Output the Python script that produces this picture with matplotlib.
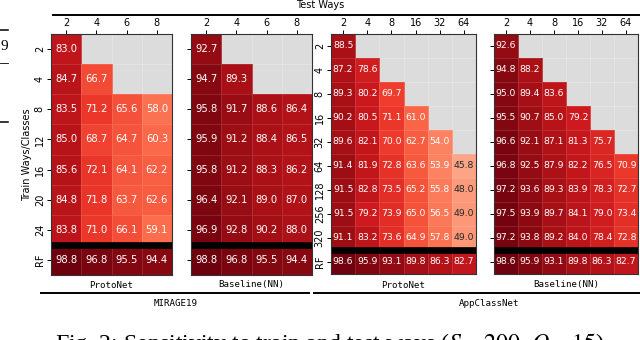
# -*- coding: utf-8 -*-
import numpy as np
import matplotlib
matplotlib.use("Agg")
import matplotlib.pyplot as plt
from matplotlib.lines import Line2D

nan = np.nan

# MIRAGE19, train ways 2..24 + RF, test ways 2..8
mirage_rows = ["2", "4", "8", "12", "16", "20", "24", "RF"]
mirage_cols = ["2", "4", "6", "8"]
mirage_proto = [
    [83.0, nan, nan, nan],
    [84.7, 66.7, nan, nan],
    [83.5, 71.2, 65.6, 58.0],
    [85.0, 68.7, 64.7, 60.3],
    [85.6, 72.1, 64.1, 62.2],
    [84.8, 71.8, 63.7, 62.6],
    [83.8, 71.0, 66.1, 59.1],
    [98.8, 96.8, 95.5, 94.4],
]
mirage_base = [
    [92.7, nan, nan, nan],
    [94.7, 89.3, nan, nan],
    [95.8, 91.7, 88.6, 86.4],
    [95.9, 91.2, 88.4, 86.5],
    [95.8, 91.2, 88.3, 86.2],
    [96.4, 92.1, 89.0, 87.0],
    [96.9, 92.8, 90.2, 88.0],
    [98.8, 96.8, 95.5, 94.4],
]

# AppClassNet, train classes 2..320 + RF, test ways 2..64
acn_rows = ["2", "4", "8", "16", "32", "64", "128", "256", "320", "RF"]
acn_cols = ["2", "4", "8", "16", "32", "64"]
acn_proto = [
    [88.5, nan, nan, nan, nan, nan],
    [87.2, 78.6, nan, nan, nan, nan],
    [89.3, 80.2, 69.7, nan, nan, nan],
    [90.2, 80.5, 71.1, 61.0, nan, nan],
    [89.6, 82.1, 70.0, 62.7, 54.0, nan],
    [91.4, 81.9, 72.8, 63.6, 53.9, 45.8],
    [91.5, 82.8, 73.5, 65.2, 55.8, 48.0],
    [91.5, 79.2, 73.9, 65.0, 56.5, 49.0],
    [91.1, 83.2, 73.6, 64.9, 57.8, 49.0],
    [98.6, 95.9, 93.1, 89.8, 86.3, 82.7],
]
acn_base = [
    [92.6, nan, nan, nan, nan, nan],
    [94.8, 88.2, nan, nan, nan, nan],
    [95.0, 89.4, 83.6, nan, nan, nan],
    [95.5, 90.7, 85.0, 79.2, nan, nan],
    [96.6, 92.1, 87.1, 81.3, 75.7, nan],
    [96.8, 92.5, 87.9, 82.2, 76.5, 70.9],
    [97.2, 93.6, 89.3, 83.9, 78.3, 72.7],
    [97.5, 93.9, 89.7, 84.1, 79.0, 73.4],
    [97.2, 93.8, 89.2, 84.0, 78.4, 72.8],
    [98.6, 95.9, 93.1, 89.8, 86.3, 82.7],
]

W, H = 640, 340
CMAP = plt.get_cmap("Reds")
NORM = plt.Normalize(vmin=20, vmax=100)


def px_rect(x0, y0, x1, y1):
    # pixel box (top-left origin) -> figure fraction rect
    return [x0 / W, 1 - y1 / H, (x1 - x0) / W, (y1 - y0) / H]


def text_color(v):
    rgb = np.array(CMAP(NORM(v))[:3])
    rgb = np.where(rgb <= 0.03928, rgb / 12.92, ((rgb + 0.055) / 1.055) ** 2.4)
    lum = 0.2126 * rgb[0] + 0.7152 * rgb[1] + 0.0722 * rgb[2]
    return "#262626" if lum > 0.408 else "white"


def heatmap(ax, data, rows, cols, fs, show_y):
    data = np.ma.masked_invalid(np.array(data, dtype=float))
    ax.set_facecolor("#dcdcdc")
    ax.pcolormesh(np.arange(len(cols) + 1), np.arange(len(rows) + 1), data,
                  cmap=CMAP, norm=NORM, edgecolors=(1, 1, 1, 0.12), linewidth=0.4)
    ax.set_xlim(0, len(cols))
    ax.set_ylim(len(rows), 0)
    for i in range(len(rows)):
        for j in range(len(cols)):
            v = data[i, j]
            if np.ma.is_masked(v):
                continue
            ax.text(j + 0.5, i + 0.5, f"{v:.1f}", ha="center", va="center",
                    fontsize=fs, color=text_color(v))
    # separator before the RF row
    ax.axhline(len(rows) - 1, color="black", lw=4.8)

    ax.xaxis.tick_top()
    ax.set_xticks(np.arange(len(cols)) + 0.5)
    ax.set_xticklabels(cols)
    ax.set_yticks(np.arange(len(rows)) + 0.5)
    if show_y:
        ax.set_yticklabels(rows, rotation=90, va="center")
    else:
        ax.set_yticklabels([])
        ax.tick_params(axis="y", length=0)
    ax.tick_params(labelsize=7, length=3, width=0.7, pad=1.5)
    for s in ax.spines.values():
        s.set_linewidth(0.8)
        s.set_color("#333333")


def main():
    fig = plt.figure(figsize=(W / 100, H / 100), dpi=100)

    ax1 = fig.add_axes(px_rect(51, 34, 172, 275))
    ax2 = fig.add_axes(px_rect(191, 34, 312, 275))
    ax3 = fig.add_axes(px_rect(331, 34, 476, 274))
    ax4 = fig.add_axes(px_rect(494, 34, 638, 274))

    heatmap(ax1, mirage_proto, mirage_rows, mirage_cols, 7.2, True)
    heatmap(ax2, mirage_base, mirage_rows, mirage_cols, 7.2, False)
    heatmap(ax3, acn_proto, acn_rows, acn_cols, 6.7, True)
    heatmap(ax4, acn_base, acn_rows, acn_cols, 6.7, False)

    ax1.set_ylabel("Train Ways/Classes", fontsize=7, labelpad=2)

    mono = "DejaVu Sans Mono"
    # model names under each panel
    for ax, name in [(ax1, "ProtoNet"), (ax2, "Baseline(NN)"),
                     (ax3, "ProtoNet"), (ax4, "Baseline(NN)")]:
        box = ax.get_position()
        fig.text(box.x0 + box.width / 2, 1 - 285 / H, name, family=mono,
                 fontsize=6.6, ha="center", va="center")

    # dataset names + grouping lines
    fig.add_artist(Line2D([41 / W, 309 / W], [1 - 292.5 / H] * 2, color="black", lw=1.4))
    fig.add_artist(Line2D([314 / W, 1.0], [1 - 292.5 / H] * 2, color="black", lw=1.4))
    fig.text(176 / W, 1 - 304 / H, "MIRAGE19", family=mono, fontsize=6.6,
             ha="center", va="center")
    fig.text(489 / W, 1 - 304 / H, "AppClassNet", family=mono, fontsize=6.6,
             ha="center", va="center")

    # shared x label on top
    fig.add_artist(Line2D([53 / W, 1.0], [1 - 14.7 / H] * 2, color="black", lw=1.4))
    fig.text(320 / W, 1 - 5 / H, "Test Ways", fontsize=7, ha="center", va="center")

    # bits of the page around the figure (caption is cut by the crop)
    plt.rcParams["mathtext.fontset"] = "stix"
    fig.text(55 / W, 1 - 331 / H,
             "Fig. 2: Sensitivity to train and test ways ($S = 200$, $Q = 15$).",
             family="Liberation Serif", fontsize=17.2, ha="left", va="top")
    fig.text(8 / W, 1 - 46 / H, "9", family="Liberation Serif", fontsize=11,
             ha="right", va="center")
    for y, lw in [(30, 1.1), (63, 0.6), (122, 1.1)]:
        fig.add_artist(Line2D([0, 8 / W], [1 - y / H] * 2, color="black", lw=lw))

    fig.savefig("out.png", dpi=100)


if __name__ == "__main__":
    main()
